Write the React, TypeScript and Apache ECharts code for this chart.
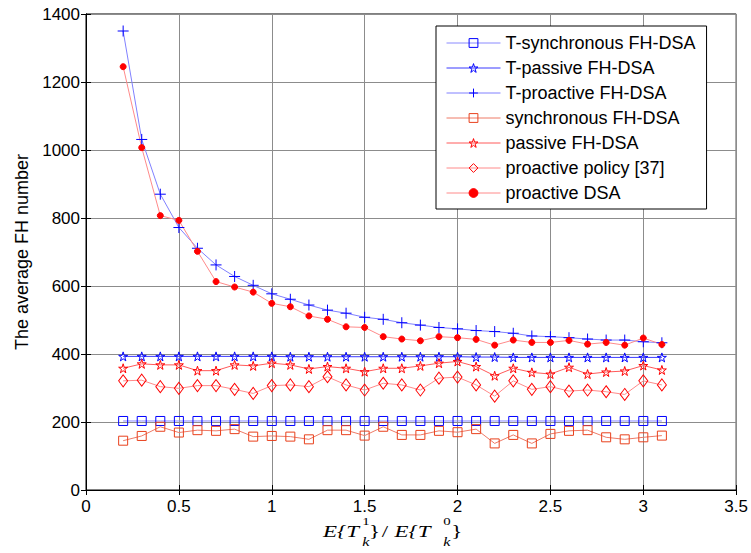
import React, { useEffect, useRef } from "react";
import * as echarts from "echarts";

const xValues = [0.2, 0.3, 0.4, 0.5, 0.6, 0.7, 0.8, 0.9, 1.0, 1.1, 1.2, 1.3, 1.4, 1.5, 1.6, 1.7, 1.8, 1.9, 2.0, 2.1, 2.2, 2.3, 2.4, 2.5, 2.6, 2.7, 2.8, 2.9, 3.0, 3.1];

const tSynchronous = [203, 203, 203, 203, 203, 203, 203, 203, 203, 203, 203, 203, 203, 203, 203, 203, 203, 203, 203, 203, 203, 203, 203, 203, 203, 203, 203, 203, 203, 203];
const tPassive = [393, 393, 393, 393, 393, 393, 393, 393, 393, 392, 392, 392, 392, 392, 392, 392, 392, 392, 392, 391, 391, 390, 390, 390, 390, 390, 390, 390, 390, 390];
const tProactive = [1350, 1031, 870, 772, 711, 662, 628, 602, 577, 561, 544, 529, 520, 508, 502, 492, 485, 478, 474, 469, 466, 461, 453, 451, 448, 444, 441, 441, 436, 433];
const synchronous = [145, 159, 186, 169, 176, 174, 179, 157, 159, 157, 149, 176, 176, 160, 186, 162, 162, 174, 170, 179, 137, 162, 137, 165, 174, 176, 155, 149, 155, 160];
const passive = [358, 371, 368, 368, 351, 351, 368, 365, 373, 368, 356, 363, 358, 348, 358, 358, 365, 373, 378, 363, 336, 358, 346, 341, 361, 341, 347, 350, 366, 353];
const proactivePolicy = [321, 323, 304, 299, 307, 307, 296, 284, 307, 309, 304, 333, 309, 294, 314, 309, 294, 329, 332, 309, 276, 321, 296, 304, 291, 294, 289, 281, 321, 309];
const proactiveDSA = [1245, 1007, 807, 793, 702, 613, 597, 582, 549, 539, 512, 502, 480, 478, 451, 444, 439, 451, 448, 443, 426, 441, 434, 434, 440, 429, 434, 426, 447, 428];

const seriesNames = [
  "T-synchronous FH-DSA",
  "T-passive FH-DSA",
  "T-proactive FH-DSA",
  "synchronous FH-DSA",
  "passive FH-DSA",
  "proactive policy [37]",
  "proactive DSA",
];

const STAR = "path://M50,0 L61,35 L98,35 L68,57 L79,91 L50,70 L21,91 L32,57 L2,35 L39,35 Z";
const PLUS = "path://M0,50 L100,50 M50,0 L50,100";

const SANS = "'Liberation Sans', Arial, sans-serif";
const SERIF = "'Liberation Serif', 'Times New Roman', serif";

const CLEAR = "rgba(255,255,255,0)";

function pairs(ys: number[]) {
  return xValues.map((x, i) => [x, ys[i]]);
}

export default function App() {
  const ref = useRef<HTMLDivElement>(null);
  useEffect(() => {
    if (!ref.current) return;
    const chart = echarts.init(ref.current, undefined, { renderer: "svg" });

    const styles = [
      { data: tSynchronous, symbol: "rect", size: 9, line: "#8a8aff", mark: "#0000ff", fill: CLEAR },
      { data: tPassive, symbol: STAR, size: 9, line: "#3a3aff", mark: "#0000ff", fill: CLEAR },
      { data: tProactive, symbol: PLUS, size: 11, line: "#8080ff", mark: "#0000ff", fill: CLEAR },
      { data: synchronous, symbol: "rect", size: 9, line: "#ee7a66", mark: "#e8401c", fill: CLEAR },
      { data: passive, symbol: STAR, size: 9, line: "#ff5a5a", mark: "#ff0000", fill: CLEAR },
      { data: proactivePolicy, symbol: "diamond", size: [9, 12], line: "#ff8a8a", mark: "#ff0000", fill: CLEAR },
      { data: proactiveDSA, symbol: "circle", size: 6, line: "#ff8a8a", mark: "#ff0000", fill: "#ff0000" },
    ];

    const series = styles.map((s, i) => ({
      name: seriesNames[i],
      type: "line",
      data: pairs(s.data),
      symbol: s.symbol,
      symbolSize: s.size,
      showSymbol: true,
      lineStyle: { color: s.line, width: 1 },
      itemStyle: { color: s.fill, borderColor: s.mark, borderWidth: 1 },
      emphasis: { disabled: true },
    }));

    const legendData = styles.map((s, i) => ({
      name: seriesNames[i],
      itemStyle: { color: s.fill, borderColor: s.mark, borderWidth: 1 },
      lineStyle: { color: s.line, width: 1 },
    }));

    const mathPart = (text: string, x: number, y: number, size: number, italic: boolean) => ({
      type: "text",
      x,
      y,
      style: {
        text,
        font: `${italic ? "italic " : ""}${size}px ${SERIF}`,
        fill: "#000",
        align: "left",
        verticalAlign: "middle",
      },
    });

    const option: any = {
      animation: false,
      backgroundColor: "#fff",
      grid: { left: 86, right: 11, top: 14, bottom: 63, show: true, borderColor: "#000", borderWidth: 1 },
      xAxis: [
        {
          type: "value",
          min: 0,
          max: 3.5,
          interval: 0.5,
          axisLine: { show: true, lineStyle: { color: "#000" } },
          axisTick: { show: true, inside: true, length: 5, lineStyle: { color: "#000" } },
          axisLabel: { color: "#000", fontSize: 17, fontFamily: SANS, margin: 8, formatter: (v: number) => String(v) },
          splitLine: { show: true, lineStyle: { color: "#8c8c8c", width: 1 } },
        },
        {
          type: "value",
          position: "top",
          min: 0,
          max: 3.5,
          interval: 0.5,
          axisLine: { show: true, lineStyle: { color: "#000" } },
          axisTick: { show: true, inside: true, length: 5, lineStyle: { color: "#000" } },
          axisLabel: { show: false },
          splitLine: { show: false },
        },
      ],
      yAxis: [
        {
          type: "value",
          min: 0,
          max: 1400,
          interval: 200,
          axisLine: { show: true, lineStyle: { color: "#000" } },
          axisTick: { show: true, inside: true, length: 5, lineStyle: { color: "#000" } },
          axisLabel: { color: "#000", fontSize: 17, fontFamily: SANS, margin: 6, formatter: (v: number) => String(v) },
          splitLine: { show: true, lineStyle: { color: "#8c8c8c", width: 1 } },
        },
        {
          type: "value",
          position: "right",
          min: 0,
          max: 1400,
          interval: 200,
          axisLine: { show: true, lineStyle: { color: "#000" } },
          axisTick: { show: true, inside: true, length: 5, lineStyle: { color: "#000" } },
          axisLabel: { show: false },
          splitLine: { show: false },
        },
      ],
      legend: {
        orient: "vertical",
        left: 436,
        top: 26,
        data: legendData,
        backgroundColor: "#fff",
        borderColor: "#000",
        borderWidth: 1,
        borderRadius: 0,
        padding: [8, 11, 7, 10],
        itemWidth: 54,
        itemHeight: 11,
        itemGap: 7,
        textStyle: { color: "#000", fontSize: 18, fontFamily: SANS },
        selectedMode: false,
      },
      series,
      graphic: [
        {
          type: "text",
          x: 22,
          y: 252,
          rotation: Math.PI / 2,
          style: {
            text: "The average FH number",
            font: `18px ${SANS}`,
            fill: "#000",
            align: "center",
            verticalAlign: "middle",
          },
        },
        {
          type: "group",
          x: 323,
          y: 0,
          scaleX: 1.35,
          children: [
            mathPart("E{T", 0, 531, 17, true),
            mathPart("1", 29, 521, 11, false),
            mathPart("k", 29, 542, 12, true),
            mathPart("}", 34, 531, 17, false),
            mathPart("/", 43.5, 531, 17, false),
            mathPart("E{T", 53, 531, 17, true),
            mathPart("0", 89, 521, 11, false),
            mathPart("k", 89, 542, 12, true),
            mathPart("}", 95, 531, 17, false),
          ],
        },
      ],
    };
    chart.setOption(option);
    return () => chart.dispose();
  }, []);
  return (
    <div
      ref={ref}
      style={{ position: "fixed", left: 0, top: 0, width: 751, height: 553, background: "#fff" }}
    />
  );
}
